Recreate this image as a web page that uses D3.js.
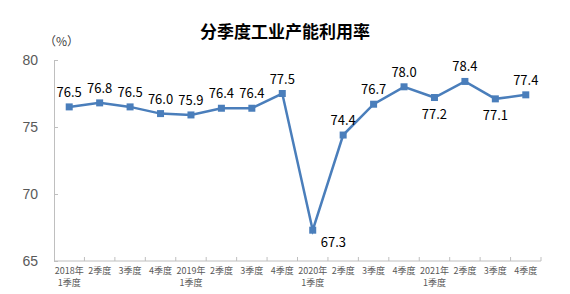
<!DOCTYPE html>
<html>
<head>
<meta charset="utf-8">
<script src="https://cdn.jsdelivr.net/npm/d3@7"></script>
<style>
  body { margin: 0; background: #fff; }
  svg { font-family: "Noto Sans CJK SC", "Noto Sans", sans-serif; }
</style>
</head>
<body>
<svg id="chart"></svg>
<script>
const width = 570;
const height = 294;

// quarters, first line / second line of each tick label
const quarterTop = ["2018年", "2季度", "3季度", "4季度", "2019年", "2季度", "3季度", "4季度",
                    "2020年", "2季度", "3季度", "4季度", "2021年", "2季度", "3季度", "4季度"];
const quarterBottom = ["1季度", "", "", "", "1季度", "", "", "",
                       "1季度", "", "", "", "1季度", "", "", ""];
const rates = [76.5, 76.8, 76.5, 76.0, 75.9, 76.4, 76.4, 77.5,
               67.3, 74.4, 76.7, 78.0, 77.2, 78.4, 77.1, 77.4];
// where each value label sits relative to its point
const labelSide = ["up", "up", "up", "up", "up", "up", "up", "up",
                   "right", "up", "up", "up", "down", "up", "down", "up"];
const yTicks = [65, 70, 75, 80];

const margin = {top: 60, right: 29, bottom: 33, left: 54};
const innerwidth = width - margin.left - margin.right;
const innerheight = height - margin.top - margin.bottom;

const svg = d3.select("#chart")
  .attr("width", width)
  .attr("height", height);

svg.append("text")
  .attr("x", 285)
  .attr("y", 38)
  .attr("text-anchor", "middle")
  .attr("font-size", 17)
  .attr("font-weight", "bold")
  .attr("fill", "#000")
  .text("分季度工业产能利用率");

svg.append("text")
  .attr("x", 44)
  .attr("y", 46)
  .attr("font-size", 12)
  .attr("fill", "#404040")
  .text("（%）");

const g = svg.append("g")
  .attr("transform", "translate(" + margin.left + "," + margin.top + ")");

const x_scale = d3.scaleBand()
  .domain(d3.range(rates.length))
  .range([0, innerwidth]);

const y_scale = d3.scaleLinear()
  .domain([65, 80])
  .range([innerheight, 0]);

// y axis: line with small inward ticks
const yAxis = g.append("g")
  .call(d3.axisRight(y_scale).tickValues(yTicks).tickSize(4).tickFormat(""));
yAxis.select(".domain").attr("stroke", "#bfbfbf");
yAxis.selectAll(".tick line").attr("stroke", "#bfbfbf");

g.selectAll(".ylab")
  .data(yTicks)
  .enter().append("text")
  .attr("class", "ylab")
  .attr("x", -16)
  .attr("y", d => y_scale(d))
  .attr("dy", "0.35em")
  .attr("text-anchor", "end")
  .attr("font-size", 14)
  .attr("font-family", "Liberation Sans, Arial, sans-serif")
  .attr("fill", "#595959")
  .text(d => d);

// x axis: baseline with ticks at category boundaries
const boundaries = d3.range(rates.length + 1).map(i => i * x_scale.bandwidth());
g.append("line")
  .attr("x1", 0).attr("x2", innerwidth)
  .attr("y1", innerheight).attr("y2", innerheight)
  .attr("stroke", "#bfbfbf");
g.selectAll(".xtick")
  .data(boundaries.slice(1))
  .enter().append("line")
  .attr("class", "xtick")
  .attr("x1", d => d).attr("x2", d => d)
  .attr("y1", innerheight).attr("y2", innerheight - 4)
  .attr("stroke", "#bfbfbf");

const xlab = g.selectAll(".xlab")
  .data(d3.range(rates.length))
  .enter().append("text")
  .attr("class", "xlab")
  .attr("text-anchor", "middle")
  .attr("font-size", 9)
  .attr("fill", "#595959")
  .attr("x", i => x_scale(i) + x_scale.bandwidth() / 2)
  .attr("y", innerheight + 13);
xlab.append("tspan")
  .text(i => quarterTop[i]);
xlab.append("tspan")
  .attr("x", i => x_scale(i) + x_scale.bandwidth() / 2)
  .attr("dy", 12)
  .text(i => quarterBottom[i]);

const cx = i => x_scale(i) + x_scale.bandwidth() / 2;

const draw_line = d3.line()
  .x((d, i) => cx(i))
  .y(d => y_scale(d));

g.append("path")
  .datum(rates)
  .attr("d", draw_line)
  .attr("fill", "none")
  .attr("stroke", "#4a7ebb")
  .attr("stroke-width", 2.5);

g.selectAll(".pt")
  .data(rates)
  .enter().append("rect")
  .attr("class", "pt")
  .attr("x", (d, i) => cx(i) - 3.5)
  .attr("y", d => y_scale(d) - 3.5)
  .attr("width", 7)
  .attr("height", 7)
  .attr("fill", "#4a7ebb");

g.selectAll(".vlab")
  .data(rates)
  .enter().append("text")
  .attr("class", "vlab")
  .attr("font-size", 13)
  .attr("fill", "#000")
  .attr("text-anchor", (d, i) => labelSide[i] === "right" ? "start" : "middle")
  .attr("x", (d, i) => labelSide[i] === "right" ? cx(i) + 8 : cx(i))
  .attr("y", (d, i) => {
    const y = y_scale(d);
    if (labelSide[i] === "up") return y - 10;
    if (labelSide[i] === "down") return y + 21;
    return y + 17;
  })
  .text(d => d.toFixed(1));
</script>
</body>
</html>
